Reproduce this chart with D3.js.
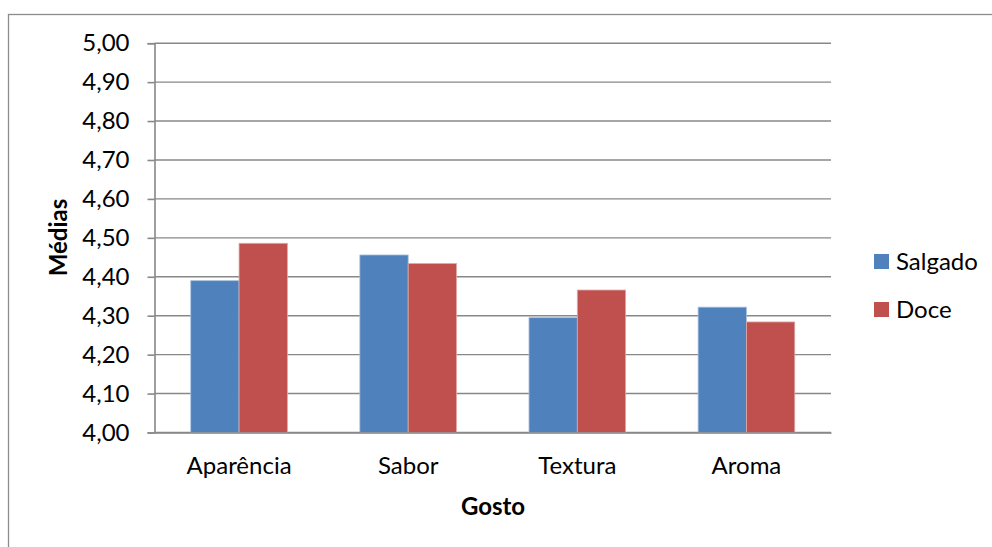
<!DOCTYPE html>
<html>
<head>
<meta charset="utf-8">
<script src="https://cdn.jsdelivr.net/npm/d3@7"></script>
<style>
  html, body { margin: 0; padding: 0; background: #fff; }
  svg { display: block; font-family: Lato, "Open Sans", sans-serif; }
</style>
</head>
<body>
<svg id="chart" width="992" height="547"></svg>
<script>
// Mean scores per attribute for the two product types
const categories = ["Aparência", "Sabor", "Textura", "Aroma"];
const seriesNames = ["Salgado", "Doce"];
const salgado = [4.39, 4.456, 4.295, 4.322];
const doce = [4.486, 4.434, 4.366, 4.284];
const yTicks = [4.0, 4.1, 4.2, 4.3, 4.4, 4.5, 4.6, 4.7, 4.8, 4.9, 5.0];
const colors = ["#4F81BD", "#C0504D"];
const outlines = ["#A7C0DE", "#DFA9A7"];

const svg = d3.select("#chart");
const W = 992, H = 547;
const plot = { left: 154.5, right: 831, top: 43.2, bottom: 432.5 };

// Outer chart frame (left and top edges are visible)
svg.append("rect")
  .attr("x", 8.5).attr("y", 14.5)
  .attr("width", W + 20).attr("height", H + 20)
  .attr("fill", "none").attr("stroke", "#8c8c8c").attr("stroke-width", 1.3);

const y = d3.scaleLinear().domain([4.0, 5.0]).range([plot.bottom, plot.top]);
const x0 = d3.scaleBand().domain(categories).range([plot.left, plot.right]).paddingInner(0).paddingOuter(0);
// Gap between groups is 150% of a bar's width
const x1 = d3.scaleBand().domain(seriesNames).range([0, x0.bandwidth() * 2 / 3.5]);

const fmt = v => d3.format(".2f")(v).replace(".", ",");

// Horizontal gridlines
svg.append("g")
  .selectAll("line")
  .data(yTicks)
  .join("line")
  .attr("x1", plot.left).attr("x2", plot.right)
  .attr("y1", d => y(d)).attr("y2", d => y(d))
  .attr("stroke", "#888888").attr("stroke-width", 1.4);

// Bars
const groups = svg.append("g")
  .selectAll("g")
  .data(categories)
  .join("g")
  .attr("transform", c => `translate(${x0(c) + x0.bandwidth() * 0.75 / 3.5},0)`);

groups.selectAll("rect")
  .data((c, i) => [
    { s: "Salgado", v: salgado[i], k: 0 },
    { s: "Doce", v: doce[i], k: 1 }
  ])
  .join("rect")
  .attr("x", d => x1(d.s))
  .attr("y", d => y(d.v))
  .attr("width", x1.bandwidth())
  .attr("height", d => y(4.0) - y(d.v))
  .attr("fill", d => colors[d.k])
  .attr("stroke", d => outlines[d.k])
  .attr("stroke-width", 0.8);

// Y axis with left-pointing ticks
const yAxis = d3.axisLeft(y).tickValues(yTicks).tickFormat(fmt).tickSize(7).tickPadding(18);
const yg = svg.append("g").attr("transform", `translate(${plot.left},0)`).call(yAxis);
yg.select(".domain").attr("stroke", "#888888").attr("stroke-width", 1.6);
yg.selectAll(".tick line").attr("stroke", "#888888").attr("stroke-width", 1.6);
yg.selectAll(".tick text")
  .attr("font-family", "Lato, sans-serif")
  .attr("font-size", 24).attr("fill", "#000");

// X axis (baseline only, no ticks)
const xAxis = d3.axisBottom(x0).tickSize(0).tickPadding(24);
const xg = svg.append("g").attr("transform", `translate(0,${plot.bottom})`).call(xAxis);
xg.select(".domain").attr("stroke", "#888888").attr("stroke-width", 1.6);
xg.selectAll(".tick text")
  .attr("font-family", "Lato, sans-serif")
  .attr("font-size", 24).attr("fill", "#000");

// Axis titles
svg.append("text")
  .attr("x", 493).attr("y", 515)
  .attr("text-anchor", "middle")
  .attr("font-size", 24).attr("font-weight", "bold")
  .text("Gosto");

svg.append("text")
  .attr("transform", "translate(67,237.5) rotate(-90)")
  .attr("text-anchor", "middle")
  .attr("font-size", 24).attr("font-weight", "bold")
  .text("Médias");

// Legend
const legend = svg.append("g")
  .selectAll("g")
  .data(seriesNames)
  .join("g")
  .attr("transform", (d, i) => `translate(874,${254 + i * 48})`);

legend.append("rect")
  .attr("width", 15).attr("height", 15)
  .attr("fill", (d, i) => colors[i]);

legend.append("text")
  .attr("x", 22).attr("y", 16)
  .attr("font-size", 24).attr("fill", "#000")
  .text(d => d);
</script>
</body>
</html>
